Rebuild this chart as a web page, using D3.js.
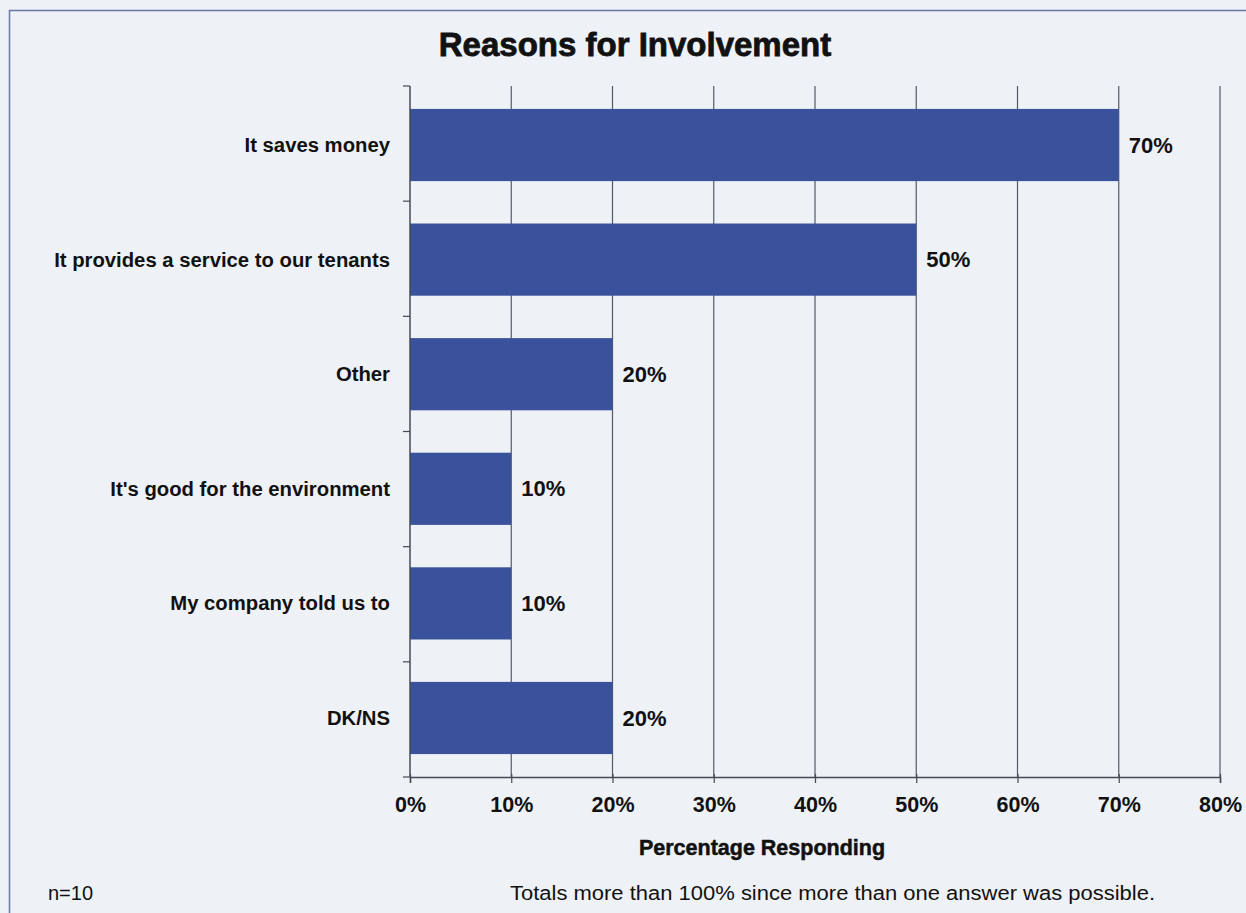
<!DOCTYPE html>
<html>
<head>
<meta charset="utf-8">
<script src="https://cdn.jsdelivr.net/npm/d3@7"></script>
<style>
  html, body { margin: 0; padding: 0; background: #eef1f6; }
  svg { display: block; }
  text { font-family: "Liberation Sans", Arial, sans-serif; fill: #111; }
</style>
</head>
<body>
<svg id="chart" width="1246" height="913"></svg>
<script>
// Survey responses: share of respondents citing each reason
const categories = [
  "It saves money",
  "It provides a service to our tenants",
  "Other",
  "It's good for the environment",
  "My company told us to",
  "DK/NS"
];
const values = [70, 50, 20, 10, 10, 20];
const tickValues = [0, 10, 20, 30, 40, 50, 60, 70, 80];
const chartTitle = "Reasons for Involvement";
const axisTitle = "Percentage Responding";
const sampleNote = "n=10";
const footNote = "Totals more than 100% since more than one answer was possible.";

const svg = d3.select("#chart");
const W = 1246, H = 913;

// Page background and frame
svg.append("rect").attr("width", W).attr("height", H).attr("fill", "#eef1f6");
svg.append("path")
  .attr("d", `M9.5,${H} V10.5 H${W}`)
  .attr("fill", "none").attr("stroke", "#6a78a8").attr("stroke-width", 1.5);

const plot = { left: 410, right: 1220, top: 86, bottom: 777 };

const x = d3.scaleLinear().domain([0, 80]).range([plot.left, plot.right]);
const y = d3.scaleBand().domain(categories).range([plot.top, plot.bottom])
  .paddingInner(0.37).paddingOuter(0.2);

// Vertical gridlines
svg.append("g").selectAll("line").data(tickValues.slice(1)).join("line")
  .attr("x1", d => x(d)).attr("x2", d => x(d))
  .attr("y1", plot.top).attr("y2", plot.bottom)
  .attr("stroke", "#555a66").attr("stroke-width", 1.2);

// Bars
svg.append("g").selectAll("rect").data(values).join("rect")
  .attr("x", x(0))
  .attr("y", (d, i) => y(categories[i]))
  .attr("width", d => x(d) - x(0))
  .attr("height", y.bandwidth())
  .attr("fill", "#3a529c");

// Bottom axis
const xAxis = svg.append("g")
  .attr("transform", `translate(0,${plot.bottom})`)
  .call(d3.axisBottom(x).tickValues(tickValues).tickFormat(d => d + "%").tickSize(6).tickPadding(14));
xAxis.select(".domain").attr("stroke", "#444a55").attr("stroke-width", 1.5);
xAxis.selectAll(".tick line").attr("stroke", "#444a55").attr("stroke-width", 1.2).attr("y1", -3);
xAxis.selectAll(".tick text")
  .attr("font-family", "Liberation Sans, Arial, sans-serif")
  .attr("font-size", 21.5).attr("font-weight", "bold").attr("fill", "#111");

// Left axis: line with ticks at band boundaries
const boundaries = d3.range(categories.length + 1).map(i => plot.top + (plot.bottom - plot.top) * i / categories.length);
svg.append("line")
  .attr("x1", x(0)).attr("x2", x(0)).attr("y1", plot.top).attr("y2", plot.bottom)
  .attr("stroke", "#444a55").attr("stroke-width", 1.5);
svg.append("g").selectAll("line").data(boundaries).join("line")
  .attr("x1", x(0) - 7).attr("x2", x(0))
  .attr("y1", d => d).attr("y2", d => d)
  .attr("stroke", "#444a55").attr("stroke-width", 1.2);

// Category labels
svg.append("g").selectAll("text").data(categories).join("text")
  .attr("x", x(0) - 20)
  .attr("y", d => y(d) + y.bandwidth() / 2)
  .attr("dy", "0.35em")
  .attr("text-anchor", "end")
  .attr("font-size", 20.3).attr("font-weight", "bold")
  .text(d => d);

// Value labels
svg.append("g").selectAll("text").data(values).join("text")
  .attr("x", d => x(d) + 10)
  .attr("y", (d, i) => y(categories[i]) + y.bandwidth() / 2)
  .attr("dy", "0.35em")
  .attr("font-size", 22).attr("font-weight", "bold")
  .text(d => d + "%");

// Titles and notes
svg.append("text").attr("x", 635).attr("y", 56).attr("text-anchor", "middle")
  .attr("font-size", 33).attr("font-weight", "bold")
  .attr("stroke", "#111").attr("stroke-width", 0.8).text(chartTitle);
svg.append("text").attr("x", 762).attr("y", 855).attr("text-anchor", "middle")
  .attr("font-size", 21.5).attr("font-weight", "bold")
  .attr("stroke", "#111").attr("stroke-width", 0.5).text(axisTitle);
svg.append("text").attr("x", 48).attr("y", 900)
  .attr("font-size", 20).text(sampleNote);
svg.append("text").attr("x", 510).attr("y", 900)
  .attr("font-size", 20).attr("textLength", 645).attr("lengthAdjust", "spacingAndGlyphs")
  .text(footNote);
</script>
</body>
</html>
